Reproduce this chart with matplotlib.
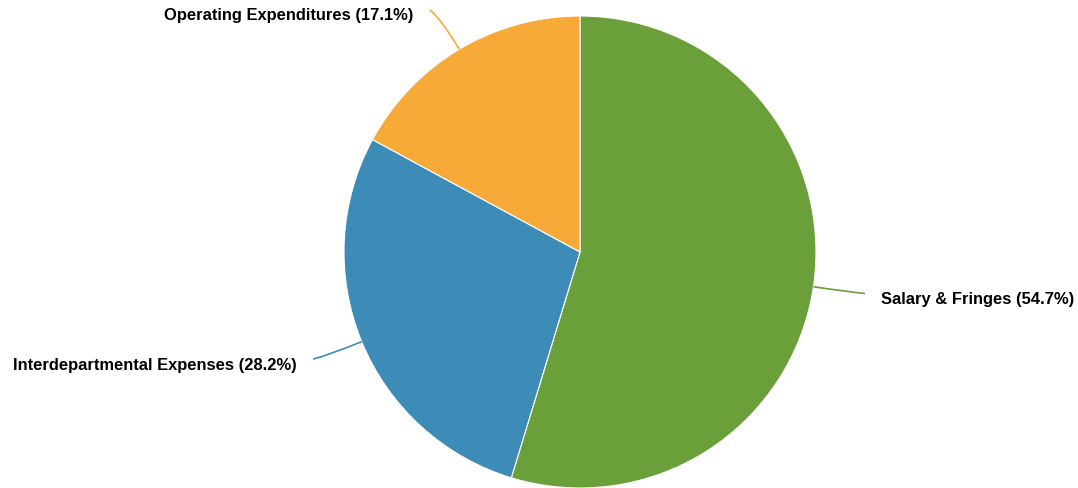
import numpy as np
import matplotlib.pyplot as plt
from matplotlib.path import Path
from matplotlib.patches import PathPatch

plt.rcParams['font.family'] = ['Liberation Sans', 'DejaVu Sans']

# Budget breakdown
categories = ['Salary & Fringes', 'Interdepartmental Expenses', 'Operating Expenditures']
shares = [54.7, 28.2, 17.1]
colors = ['#6a9f3a', '#3d8bb7', '#f7aa37']

W, H = 1078, 488
fig = plt.figure(figsize=(W / 100, H / 100), dpi=100)
ax = fig.add_axes([0, 0, 1, 1])

cx, cy, r = 580, H - 252, 236
wedges, _ = ax.pie(shares, colors=colors, startangle=90, counterclock=False,
                   center=(cx, cy), radius=r, frame=True,
                   wedgeprops=dict(edgecolor='white', linewidth=0.8))
ax.set_xlim(0, W)
ax.set_ylim(0, H)
ax.set_aspect('equal')
ax.axis('off')

for w, name, val, col in zip(wedges, categories, shares, colors):
    mid = np.deg2rad((w.theta1 + w.theta2) / 2)
    dx, dy = np.cos(mid), np.sin(mid)
    side = 1 if dx > 0 else -1
    # curved leader line from the rim outwards
    p0 = (cx + r * dx, cy + r * dy)
    p1 = (cx + (r + 36) * dx, cy + (r + 36) * dy)
    p2 = (cx + (r + 46) * dx + 6 * side, cy + (r + 46) * dy)
    path = Path([p0, p1, p2], [Path.MOVETO, Path.CURVE3, Path.CURVE3])
    ax.add_patch(PathPatch(path, facecolor='none', edgecolor=col, lw=1.2))
    ax.text(p2[0] + 16 * side, p2[1] - 6, f'{name} ({val}%)',
            ha='left' if side > 0 else 'right', va='center',
            fontsize=11.9, fontweight='bold', color='black')

fig.savefig('out.png', dpi=100)
